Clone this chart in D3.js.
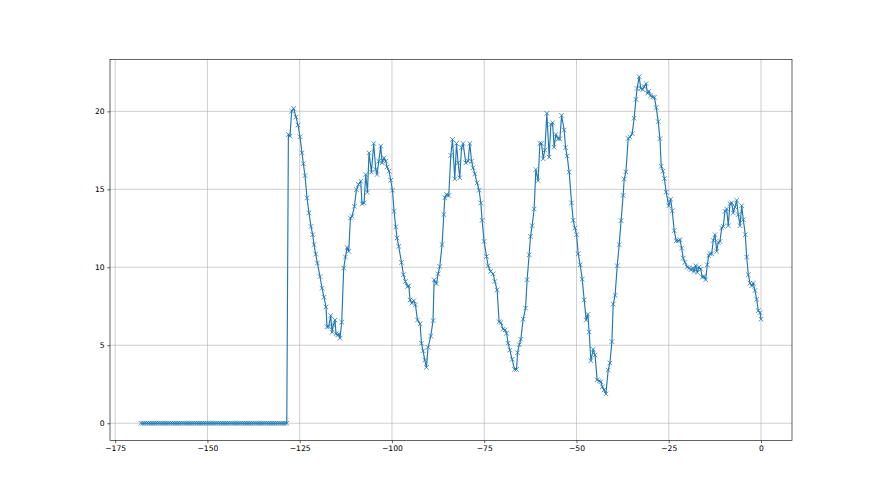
<!DOCTYPE html>
<html><head><meta charset="utf-8">
<script src="https://cdn.jsdelivr.net/npm/d3@7"></script>
<style>body{margin:0;background:#fff}svg{display:block}text{font-family:"DejaVu Sans",sans-serif}</style>
</head><body><svg id="c" width="880" height="495"></svg>
<script>
const flatTimes=[-168,-167.5,-167,-166.5,-166,-165.5,-165,-164.5,-164,-163.5,
-163,-162.5,-162,-161.5,-161,-160.5,-160,-159.5,-159,-158.5,
-158,-157.5,-157,-156.5,-156,-155.5,-155,-154.5,-154,-153.5,
-153,-152.5,-152,-151.5,-151,-150.5,-150,-149.5,-149,-148.5,
-148,-147.5,-147,-146.5,-146,-145.5,-145,-144.5,-144,-143.5,
-143,-142.5,-142,-141.5,-141,-140.5,-140,-139.5,-139,-138.5,
-138,-137.5,-137,-136.5,-136,-135.5,-135,-134.5,-134,-133.5,
-133,-132.5,-132,-131.5,-131,-130.5,-130,-129.5,-129,-128.5];
const flatValues=[0,0,0,0,0,0,0,0,0,0,
0,0,0,0,0,0,0,0,0,0,
0,0,0,0,0,0,0,0,0,0,
0,0,0,0,0,0,0,0,0,0,
0,0,0,0,0,0,0,0,0,0,
0,0,0,0,0,0,0,0,0,0,
0,0,0,0,0,0,0,0,0,0,
0,0,0,0,0,0,0,0,0,0];
const waveTimes=[-128.06,-127.63,-127.17,-126.63,-126.00,-125.46,-124.92,-124.38,-124.00,-123.56,
-123.02,-122.48,-121.94,-121.48,-121.12,-120.66,-120.20,-119.50,-118.95,-118.41,
-117.87,-117.60,-117.14,-116.59,-116.24,-115.86,-115.43,-115.16,-114.70,-114.43,
-114.07,-113.61,-113.07,-112.61,-112.17,-111.71,-111.25,-110.82,-110.17,-109.63,
-109.08,-108.46,-108.11,-107.57,-107.10,-106.64,-106.21,-105.56,-104.94,-104.39,
-104.04,-103.58,-103.04,-102.68,-102.14,-101.68,-101.33,-100.79,-100.33,-99.86,
-99.43,-98.97,-98.62,-98.16,-97.42,-96.88,-96.34,-95.80,-95.44,-95.09,
-94.63,-94.09,-93.63,-93.09,-92.38,-92.00,-91.57,-91.11,-90.65,-90.21,
-89.48,-88.86,-88.58,-87.93,-87.50,-87.04,-86.42,-85.95,-85.68,-85.22,
-84.60,-84.06,-83.60,-82.97,-82.51,-82.08,-81.62,-81.15,-80.72,-79.99,
-79.37,-78.90,-78.44,-78.01,-77.55,-76.93,-76.38,-75.92,-75.57,-75.03,
-74.38,-73.94,-73.29,-72.59,-72.13,-71.50,-70.96,-70.50,-69.88,-69.33,
-68.95,-68.52,-68.06,-67.43,-66.78,-66.24,-65.97,-65.48,-65.08,-64.45,
-63.80,-63.37,-62.83,-62.45,-62.01,-61.47,-61.01,-60.39,-59.92,-59.46,
-59.03,-58.57,-58.03,-57.40,-56.94,-56.48,-56.05,-55.59,-54.96,-54.50,
-54.04,-53.33,-52.96,-52.52,-51.98,-51.33,-50.89,-50.43,-49.97,-49.54,
-49.00,-48.45,-47.91,-47.37,-46.91,-46.56,-46.10,-45.47,-44.96,-44.41,
-43.84,-43.38,-42.98,-42.52,-42.03,-41.40,-40.94,-40.40,-40.05,-39.53,
-38.96,-38.42,-37.91,-37.36,-37.07,-36.61,-35.98,-35.52,-34.90,-34.38,
-33.89,-33.57,-33.00,-32.59,-32.08,-31.64,-31.13,-30.78,-30.37,-29.91,
-29.37,-28.88,-28.39,-27.85,-27.39,-27.03,-26.57,-26.17,-25.70,-25.00,
-24.48,-24.05,-23.51,-22.97,-22.42,-21.96,-21.50,-21.07,-20.61,-19.98,
-19.44,-18.98,-18.52,-18.17,-17.71,-17.27,-16.81,-16.35,-15.92,-15.46,
-14.99,-14.56,-14.18,-13.83,-13.37,-12.93,-12.47,-12.01,-11.58,-11.12,
-10.66,-10.22,-9.76,-9.30,-8.87,-8.41,-7.94,-7.51,-7.05,-6.59,
-6.16,-5.69,-5.23,-4.80,-4.26,-3.88,-3.44,-2.98,-2.52,-2.09,
-1.63,-1.17,-0.73,-0.27,0];
const waveValues=[18.52,18.41,20.02,20.19,19.63,19.12,18.37,17.34,16.64,15.88,
14.45,13.49,12.62,12.09,11.45,10.85,10.27,9.41,8.66,8.08,
7.46,6.19,6.19,6.90,5.83,6.30,6.62,5.74,5.66,5.72,
5.45,6.48,9.95,10.66,11.27,11.02,13.16,13.27,13.91,14.98,
15.31,15.52,14.08,14.13,15.95,14.81,17.34,16.10,17.94,16.27,
15.95,16.80,17.77,16.70,17.02,16.80,16.44,16.16,15.58,14.94,
13.59,12.59,11.88,11.34,10.31,9.52,9.09,8.77,8.81,7.91,
7.70,7.86,7.59,6.62,6.37,5.13,4.65,4.05,3.58,4.87,
5.59,6.58,9.20,8.94,9.58,10.05,11.45,13.38,14.45,14.66,
14.60,17.17,18.20,15.67,17.94,16.70,15.74,17.67,17.94,16.70,
16.80,17.94,16.80,16.38,15.99,15.41,14.94,14.13,13.01,11.66,
10.69,10.10,9.73,9.58,9.09,8.55,6.51,6.45,6.03,5.98,
5.77,5.13,4.69,4.10,3.45,3.45,4.52,5.04,5.38,6.67,
7.38,9.20,10.80,11.98,12.67,13.74,16.27,15.56,17.94,17.94,
16.96,17.51,19.87,17.06,19.16,19.27,17.70,18.52,18.24,18.24,
19.74,18.80,17.67,17.13,16.10,14.13,13.01,12.52,12.09,10.87,
10.16,9.24,7.91,6.62,6.98,5.85,4.01,4.74,4.37,2.78,
2.70,2.66,2.33,2.14,1.88,3.41,3.86,5.23,7.64,8.20,
10.10,11.45,12.99,14.61,15.66,16.12,18.26,18.35,18.57,19.56,
20.77,21.47,22.22,21.47,21.40,21.58,21.78,21.16,21.29,21.00,
20.92,20.90,20.24,19.34,18.25,16.48,16.16,15.69,14.82,13.94,
14.37,13.62,12.35,11.70,11.70,11.77,11.23,10.59,10.31,10.01,
9.95,9.84,9.95,9.73,10.10,9.67,10.01,9.88,9.37,9.41,
9.20,10.16,10.74,10.87,10.87,11.72,12.09,11.02,11.59,11.66,
12.52,12.62,13.59,13.74,12.67,14.08,14.13,13.49,13.87,14.30,
13.38,12.67,13.95,13.05,12.09,10.66,9.52,8.98,8.81,8.98,
8.51,7.95,7.22,7.09,6.67];
const xTicks=[-175,-150,-125,-100,-75,-50,-25,0];
const yTicks=[0,5,10,15,20];

const times=flatTimes.concat(waveTimes);
const values=flatValues.concat(waveValues);
const data=times.map((t,i)=>({t:t,v:values[i]}));

const pt=55/72; // figure is 16x9 in at 55 dpi
const L=110,R=792,T=59.4,B=440.55;
const color="#1f77b4";
const svg=d3.select("#c");
const xe=d3.extent(times), ye=d3.extent(values);
const xp=(xe[1]-xe[0])*0.05, yp=(ye[1]-ye[0])*0.05;
const x=d3.scaleLinear().domain([xe[0]-xp,xe[1]+xp]).range([L,R]);
const y=d3.scaleLinear().domain([ye[0]-yp,ye[1]+yp]).range([B,T]);
const fmt=d=>d<0?"\u2212"+Math.abs(d):String(d);

// grid
const grid=svg.append("g").attr("stroke","#b0b0b0").attr("stroke-width",0.8*pt);
grid.selectAll("line.gx").data(xTicks).join("line").attr("class","gx")
  .attr("x1",d=>x(d)).attr("x2",d=>x(d)).attr("y1",T).attr("y2",B);
grid.selectAll("line.gy").data(yTicks).join("line").attr("class","gy")
  .attr("y1",d=>y(d)).attr("y2",d=>y(d)).attr("x1",L).attr("x2",R);

// data line
svg.append("path").datum(data).attr("fill","none").attr("stroke",color)
  .attr("stroke-width",1.5*pt).attr("stroke-linejoin","round")
  .attr("d",d3.line().x(d=>x(d.t)).y(d=>y(d.v)));
// x markers
const h=3*pt;
svg.append("g").selectAll("path").data(data).join("path")
  .attr("transform",d=>`translate(${x(d.t)},${y(d.v)})`)
  .attr("d",`M${-h},${-h}L${h},${h}M${-h},${h}L${h},${-h}`)
  .attr("stroke",color).attr("stroke-width",1*pt).attr("fill","none");

// axes
const ax=svg.append("g").attr("transform",`translate(0,${B})`)
  .call(d3.axisBottom(x).tickValues(xTicks).tickSize(3.5*pt).tickPadding(3.5*pt).tickFormat(fmt));
const ay=svg.append("g").attr("transform",`translate(${L},0)`)
  .call(d3.axisLeft(y).tickValues(yTicks).tickSize(3.5*pt).tickPadding(3.5*pt).tickFormat(fmt));
[ax,ay].forEach(a=>{
  a.select(".domain").remove();
  a.selectAll(".tick line").attr("stroke","#000").attr("stroke-width",0.8*pt);
  a.selectAll("text").attr("font-size",10*pt).attr("font-family","DejaVu Sans").attr("fill","#000");
});
// frame
svg.append("rect").attr("x",L).attr("y",T).attr("width",R-L).attr("height",B-T)
  .attr("fill","none").attr("stroke","#000").attr("stroke-width",0.8*pt);
</script></body></html>
